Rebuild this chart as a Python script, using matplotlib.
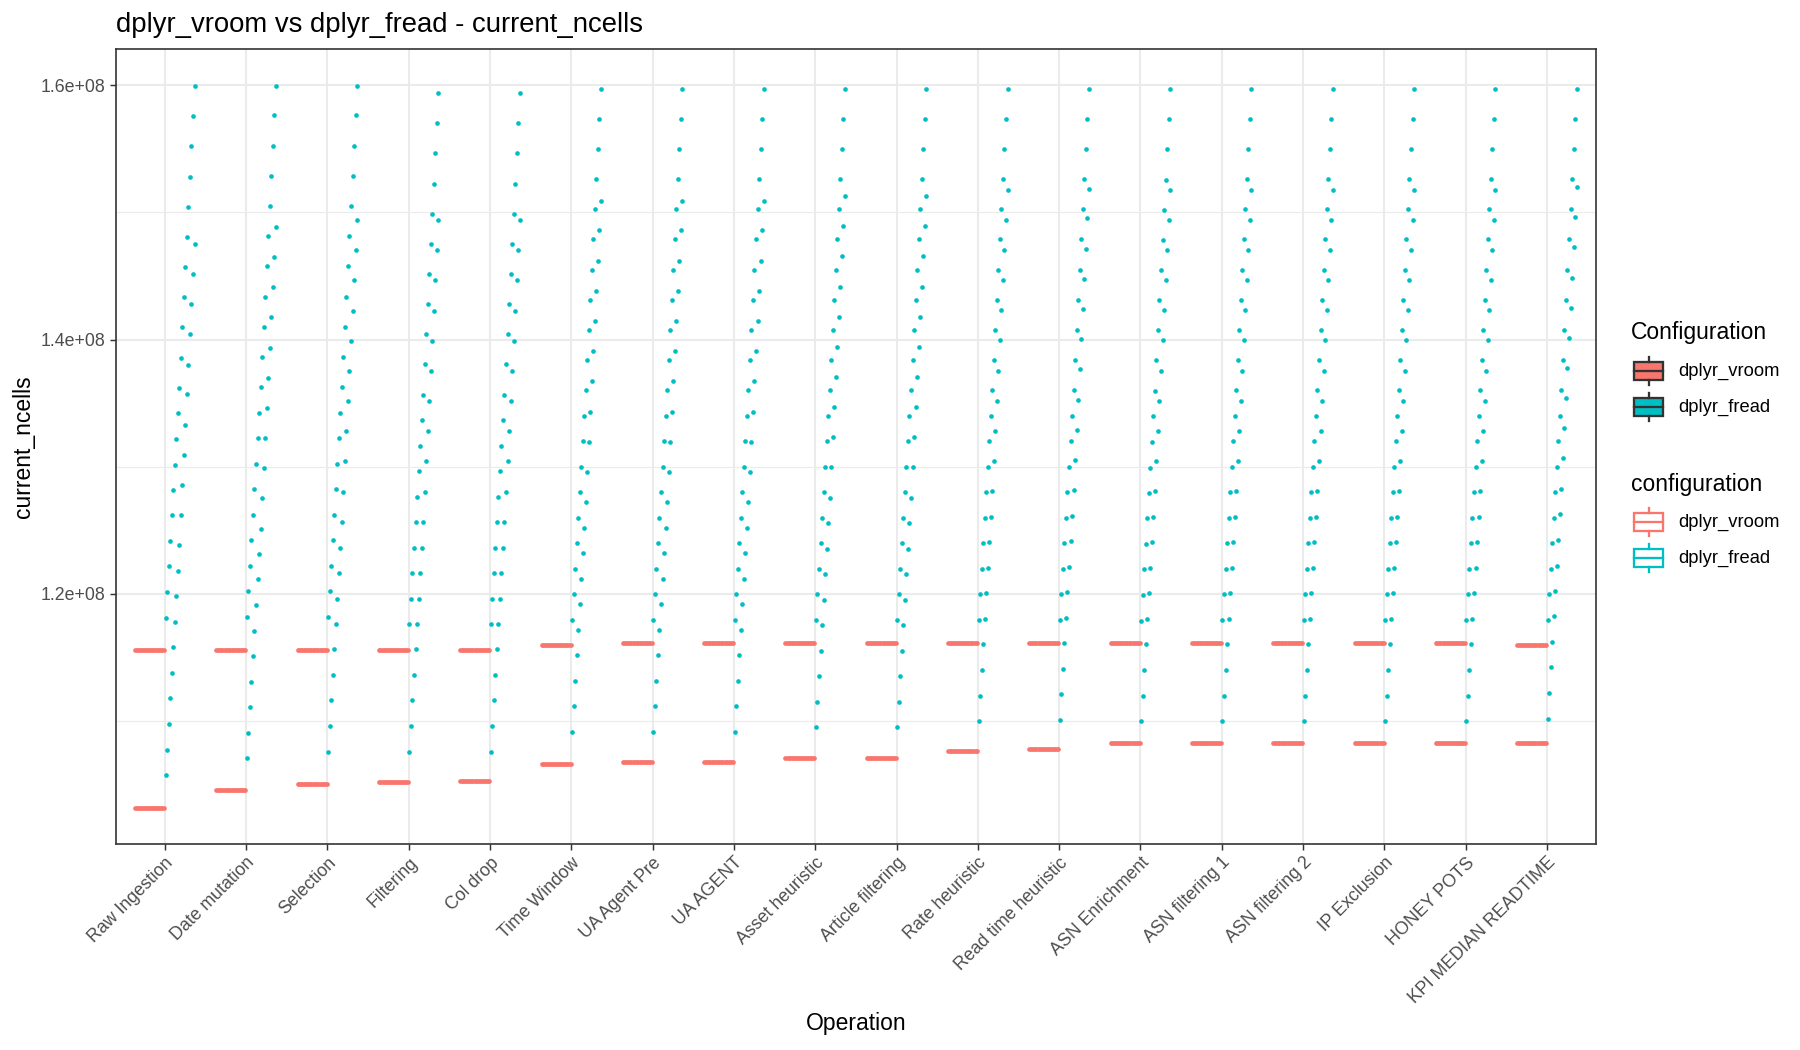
import matplotlib
matplotlib.use("Agg")
import matplotlib.pyplot as plt
import numpy as np
from matplotlib.patches import Rectangle
from matplotlib.lines import Line2D

plt.rcParams['font.family'] = ['Liberation Sans', 'DejaVu Sans']

operations = ["Raw Ingestion", "Date mutation", "Selection", "Filtering", "Col drop",
              "Time Window", "UA Agent Pre", "UA AGENT", "Asset heuristic",
              "Article filtering", "Rate heuristic", "Read time heuristic",
              "ASN Enrichment", "ASN filtering 1", "ASN filtering 2", "IP Exclusion",
              "HONEY POTS", "KPI MEDIAN READTIME"]

# dplyr_vroom sits on two flat levels per operation (millions of cells)
vroom_high = [115.61, 115.61, 115.61, 115.61, 115.61, 115.98, 116.16, 116.16, 116.16,
              116.16, 116.16, 116.16, 116.16, 116.16, 116.16, 116.16, 116.16, 116.02]
vroom_low = [103.19, 104.55, 105.09, 105.18, 105.27, 106.62, 106.80, 106.80, 107.07,
             107.07, 107.61, 107.80, 108.24, 108.24, 108.24, 108.24, 108.24, 108.29]

# dplyr_fread: first value of its two growing series (millions of cells)
fread_a_start = [105.75, 107.07, 107.60, 107.60, 107.60, 109.15, 109.15, 109.15, 109.50,
                 109.50, 110.00, 110.10, 110.00, 110.00, 110.00, 110.00, 110.00, 110.20]
fread_b_start = [118.14, 118.20, 118.20, 117.60, 117.60, 117.95, 117.95, 117.95, 117.95,
                 117.95, 117.95, 117.95, 117.91, 117.95, 117.95, 117.95, 117.95, 117.95]
# growth of fread over the 20 runs
run_growth = [0, 2.01, 4.03, 6.04, 8.03, 10.04, 12.03, 14.07, 16.05, 18.07,
              20.45, 22.82, 25.18, 27.56, 29.94, 32.29, 34.67, 37.05, 39.43, 41.78]

col_vroom = '#F8766D'
col_fread = '#00BFC4'

fig = plt.figure(figsize=(12, 7), dpi=150)
W, H = 1800, 1050
pl, pr, pt_, pb = 116, 1595.7, 49.4, 843.8
ax = fig.add_axes([pl / W, 1 - pb / H, (pr - pl) / W, (pb - pt_) / H])

n_runs = len(run_growth)
slot = 0.375 / n_runs
offs = (np.arange(n_runs) + 0.5) * slot
growth = np.array(run_growth)

all_vals = []
for i in range(len(operations)):
    xf = i + offs
    xv = xf - 0.375
    for lvl in (vroom_low[i], vroom_high[i]):
        yv = np.full(n_runs, lvl) * 1e6
        ax.scatter(xv, yv, s=5, color=col_vroom, linewidths=0, zorder=3)
        all_vals.extend(yv)
    for st in (fread_a_start[i], fread_b_start[i]):
        yf = (st + growth) * 1e6
        ax.scatter(xf, yf, s=5, color=col_fread, linewidths=0, zorder=3)
        all_vals.extend(yf)

lo, hi = min(all_vals), max(all_vals)
pad = (hi - lo) * 0.05
ax.set_ylim(lo - pad, hi + pad)
ax.set_xlim(-0.6, len(operations) - 0.4)

ax.set_yticks([1.2e8, 1.4e8, 1.6e8])
ax.set_yticklabels(['1.2e+08', '1.4e+08', '1.6e+08'])
ax.set_yticks([1.1e8, 1.3e8, 1.5e8], minor=True)
ax.set_xticks(range(len(operations)))
ax.set_xticklabels(operations, rotation=45, ha='right', va='top', rotation_mode='anchor')

ax.grid(True, which='major', color='#EBEBEB', lw=1.0, zorder=0)
ax.grid(True, which='minor', axis='y', color='#EBEBEB', lw=0.55, zorder=0)
ax.set_axisbelow(True)
for s in ax.spines.values():
    s.set_color('#333333')
    s.set_linewidth(0.8)
ax.tick_params(which='major', color='#333333', length=2.75, width=0.7,
               labelsize=8.5, labelcolor='#4D4D4D', pad=2.2)
ax.tick_params(which='minor', length=0)

ax.set_xlabel('Operation', fontsize=11, labelpad=2.4)
ax.set_ylabel('current_ncells', fontsize=11, labelpad=3)
fig.text(pl / W, 1 - 32 / H, 'dplyr_vroom vs dplyr_fread - current_ncells',
         fontsize=13.2, ha='left', va='baseline')

# legends drawn in pixel space
lax = fig.add_axes([0, 0, 1, 1])
lax.set_xlim(0, W)
lax.set_ylim(H, 0)
lax.axis('off')

def key(cy, face, edge):
    x0, bw, bh, wh = 1634.3, 28.6, 18.5, 5.2
    lw = 1.1
    lax.add_line(Line2D([x0 + bw / 2] * 2, [cy - bh / 2 - wh, cy - bh / 2], color=edge, lw=lw))
    lax.add_line(Line2D([x0 + bw / 2] * 2, [cy + bh / 2, cy + bh / 2 + wh], color=edge, lw=lw))
    lax.add_patch(Rectangle((x0, cy - bh / 2), bw, bh, facecolor=face, edgecolor=edge, lw=lw))
    lax.add_line(Line2D([x0, x0 + bw], [cy, cy], color=edge, lw=lw))

lax.text(1631, 332, 'Configuration', fontsize=11, ha='left', va='center')
key(371, col_vroom, '#333333')
key(407, col_fread, '#333333')
lax.text(1678.3, 371, 'dplyr_vroom', fontsize=8.8, ha='left', va='center')
lax.text(1678.3, 407, 'dplyr_fread', fontsize=8.8, ha='left', va='center')

lax.text(1631, 485, 'configuration', fontsize=11, ha='left', va='center')
key(522, 'white', col_vroom)
key(558, 'white', col_fread)
lax.text(1678.3, 522, 'dplyr_vroom', fontsize=8.8, ha='left', va='center')
lax.text(1678.3, 558, 'dplyr_fread', fontsize=8.8, ha='left', va='center')

fig.savefig('out.png', dpi=150)
